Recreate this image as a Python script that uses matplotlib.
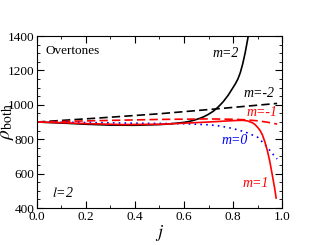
import matplotlib
matplotlib.use("Agg")
import matplotlib.pyplot as plt
from matplotlib.ticker import MultipleLocator

plt.rcParams['font.family'] = ['Liberation Serif', 'DejaVu Serif']
plt.rcParams['mathtext.fontset'] = 'stix'

# m=2 (black solid)
j_m2 = [0.0, 0.1, 0.2, 0.3, 0.4, 0.5, 0.55, 0.6, 0.62, 0.64, 0.66, 0.68, 0.70, 0.72, 0.74,
        0.76, 0.78, 0.80, 0.81, 0.82, 0.83, 0.84, 0.85, 0.86, 0.862]
r_m2 = [900, 894, 887, 882, 881, 885, 890, 898, 903, 910, 919, 930, 945, 963, 988,
        1018, 1055, 1100, 1123, 1150, 1188, 1240, 1305, 1382, 1400]
# m=-2 (black dashed)
j_mm2 = [0.0, 0.25, 0.5, 0.73, 0.98]
r_mm2 = [900, 923, 948, 976, 1008]
# m=-1 (red dashed)
j_mm1 = [0.0, 0.25, 0.5, 0.7, 0.8, 0.85, 0.9, 0.94, 0.98]
r_mm1 = [900, 908, 915, 918, 916, 913, 907, 899, 888]
# m=0 (blue dotted)
j_m0 = [0.0, 0.2, 0.4, 0.6, 0.7, 0.75, 0.8, 0.85, 0.9, 0.93, 0.96, 0.98]
r_m0 = [900, 897, 893, 890, 884, 876, 862, 842, 812, 770, 718, 685]
# m=1 (red solid)
j_m1 = [0.0, 0.1, 0.2, 0.35, 0.5, 0.6, 0.7, 0.8, 0.84, 0.86, 0.88, 0.89, 0.90, 0.91, 0.92,
        0.93, 0.94, 0.95, 0.96, 0.97, 0.976]
r_m1 = [900, 896, 891, 885, 887, 893, 900, 908, 910, 906, 895, 885, 870, 852, 825,
        785, 735, 672, 595, 515, 458]

fig = plt.figure(figsize=(3.17, 2.45), dpi=100)
ax = fig.add_axes([0.1167, 0.151, 0.7729, 0.702])

lw = 1.2
ax.plot(j_m2, r_m2, color='black', lw=lw)
ax.plot(j_mm2, r_mm2, color='black', lw=lw, ls=(0, (5, 2.5)))
ax.plot(j_mm1, r_mm1, color='red', lw=lw, ls=(0, (5, 2.5)))
ax.plot(j_m0, r_m0, color='blue', lw=lw, ls=(0, (1, 2.5)))
ax.plot(j_m1, r_m1, color='red', lw=lw)

ax.set_xlim(0, 1)
ax.set_ylim(400, 1400)
ax.xaxis.set_minor_locator(MultipleLocator(0.1))
ax.yaxis.set_major_locator(MultipleLocator(200))
ax.yaxis.set_minor_locator(MultipleLocator(50))
ax.tick_params(which='both', direction='in', top=True, right=True, labelsize=9.5, pad=2)
ax.tick_params(which='major', length=5)
ax.tick_params(which='minor', length=2.5)
ax.set_xticks([0, 0.2, 0.4, 0.6, 0.8, 1.0])
ax.set_xticklabels(['0.0', '0.2', '0.4', '0.6', '0.8', '1.0'])

ax.set_xlabel(r'$j$', fontsize=13, labelpad=0)
ax.set_ylabel(r'$\rho_{\rm both}$', fontsize=14)
ax.yaxis.set_label_coords(-0.085, 0.5)

ax.text(0.033, 0.913, 'Overtones', transform=ax.transAxes, fontsize=9.5, va='center', ha='left')
ax.text(0.061, 0.087, r'$l$=2', transform=ax.transAxes, fontsize=10, va='center', ha='left', style='italic')
ax.text(0.716, 0.899, 'm=2', transform=ax.transAxes, fontsize=10, style='italic', va='center', ha='left', color='black')
ax.text(0.842, 0.667, 'm=-2', transform=ax.transAxes, fontsize=10, style='italic', va='center', ha='left', color='black')
ax.text(0.856, 0.554, 'm=-1', transform=ax.transAxes, fontsize=10, style='italic', va='center', ha='left', color='red')
ax.text(0.754, 0.395, 'm=0', transform=ax.transAxes, fontsize=10, style='italic', va='center', ha='left', color='blue')
ax.text(0.838, 0.144, 'm=1', transform=ax.transAxes, fontsize=10, style='italic', va='center', ha='left', color='red')

fig.savefig('out.png', dpi=100)
